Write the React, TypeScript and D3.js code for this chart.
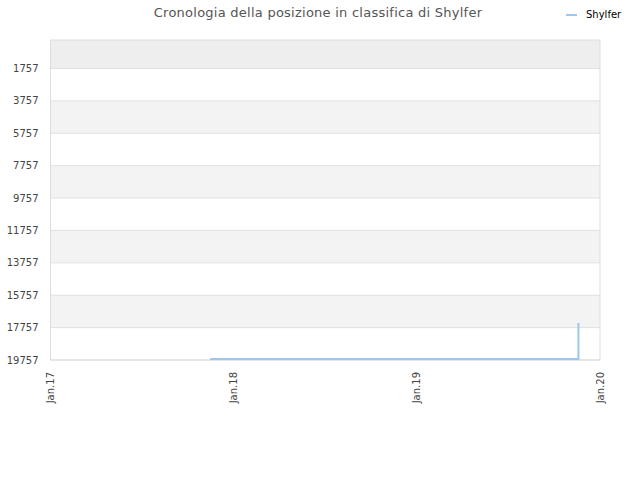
import * as d3 from 'd3';
import { useEffect, useRef } from "react";

const WIDTH = 640;
const HEIGHT = 480;

const title = "Cronologia della posizione in classifica di Shylfer";
const seriesName = "Shylfer";

// rank history (dates, positions)
const dates = ["2017-11-15", "2018-03-01", "2018-07-01", "2018-11-01", "2019-03-01", "2019-07-01", "2019-11-19", "2019-11-21"];
const ranks = [19700, 19700, 19700, 19700, 19700, 19700, 19700, 17530];

const yTicks = [1757, 3757, 5757, 7757, 9757, 11757, 13757, 15757, 17757, 19757];
const xTicks = ["2017-01-01", "2018-01-01", "2019-01-01", "2020-01-01"];

const MARGIN = { top: 40, right: 40, bottom: 120, left: 50.5 };

export default function App() {
    const ref = useRef(null);
    useEffect(() => {
        if (!ref.current) return;
        const svg = d3.select(ref.current);
        svg.selectAll("*").remove();

        const parse = d3.timeParse("%Y-%m-%d");
        const x = d3.scaleTime()
            .domain([parse(xTicks[0])!, parse(xTicks[xTicks.length - 1])!])
            .range([MARGIN.left, WIDTH - MARGIN.right]);
        const y = d3.scaleLinear()
            .domain([1, 19757])
            .range([MARGIN.top, HEIGHT - MARGIN.bottom]);

        const font = "DejaVu Sans, sans-serif";

        // alternating bands
        const bounds = [1, ...yTicks];
        for (let i = 0; i < bounds.length - 1; i++) {
            svg.append('rect')
                .attr('x', MARGIN.left)
                .attr('y', y(bounds[i]))
                .attr('width', x.range()[1] - MARGIN.left)
                .attr('height', y(bounds[i + 1]) - y(bounds[i]))
                .attr('fill', i === 0 ? '#eeeeee' : (i % 2 === 0 ? '#f3f3f3' : '#ffffff'));
        }

        // grid lines
        svg.selectAll('.grid')
            .data(yTicks)
            .enter()
            .append('line')
            .attr('x1', MARGIN.left)
            .attr('x2', x.range()[1])
            .attr('y1', d => y(d))
            .attr('y2', d => y(d))
            .attr('stroke', '#e0e0e0')
            .attr('stroke-width', 1);

        // frame
        svg.append('rect')
            .attr('x', MARGIN.left)
            .attr('y', MARGIN.top)
            .attr('width', x.range()[1] - MARGIN.left)
            .attr('height', y.range()[1] - MARGIN.top)
            .attr('fill', 'none')
            .attr('stroke', '#dddddd');

        // y labels
        svg.selectAll('.ylab')
            .data(yTicks)
            .enter()
            .append('text')
            .attr('x', MARGIN.left - 12)
            .attr('y', d => y(d))
            .attr('dy', '0.35em')
            .style('text-anchor', 'end')
            .style('font-family', font)
            .style('font-size', '10px')
            .attr('fill', '#444')
            .text(d => d);

        // x labels
        const fmt = d3.timeFormat("%b.%y");
        svg.selectAll('.xlab')
            .data(xTicks.map(d => parse(d)!))
            .enter()
            .append('text')
            .attr('transform', d => `translate(${x(d) + 3.5}, ${y.range()[1] + 12}) rotate(-90)`)
            .style('text-anchor', 'end')
            .style('font-family', font)
            .style('font-size', '10px')
            .attr('fill', '#444')
            .text(d => fmt(d));

        // series line
        const points = dates.map((d, i) => [parse(d)!, ranks[i]] as [Date, number]);
        const line = d3.line<[Date, number]>()
            .x(d => x(d[0]))
            .y(d => y(d[1]))
            .curve(d3.curveStepBefore);
        svg.append('path')
            .datum(points)
            .attr('d', line)
            .attr('fill', 'none')
            .attr('stroke', '#99c8f5')
            .attr('stroke-width', 2);

        // title
        svg.append('text')
            .attr('x', 318)
            .attr('y', 17)
            .style('text-anchor', 'middle')
            .style('font-family', font)
            .style('font-size', '13px')
            .style('letter-spacing', '0.25px')
            .attr('fill', '#555')
            .text(title);

        // legend
        svg.append('line')
            .attr('x1', 566)
            .attr('x2', 577)
            .attr('y1', 15)
            .attr('y2', 15)
            .attr('stroke', '#99c8f5')
            .attr('stroke-width', 2);
        svg.append('text')
            .attr('x', 586)
            .attr('y', 18)
            .style('font-family', font)
            .style('font-size', '10px')
            .attr('fill', '#000')
            .text(seriesName);
    }, []);

    return (
        <svg ref={ref} width={WIDTH} height={HEIGHT} style={{ position: 'absolute', left: 0, top: 0 }}></svg>
    );
}
